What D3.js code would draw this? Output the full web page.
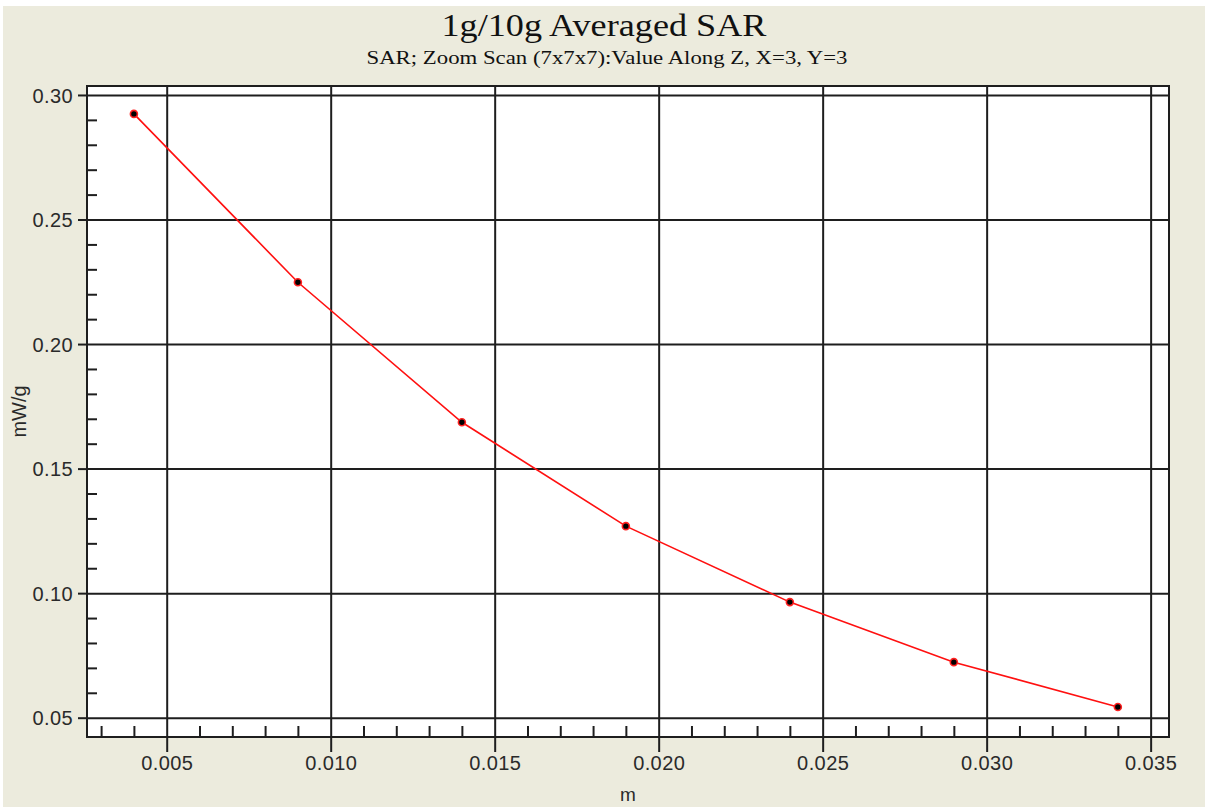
<!DOCTYPE html>
<html><head><meta charset="utf-8">
<script src="https://cdn.jsdelivr.net/npm/d3@7"></script>
<style>html,body{margin:0;padding:0;background:#fff;}svg{display:block;}</style>
</head><body>
<script>
const depthM = [0.004, 0.009, 0.014, 0.019, 0.024, 0.029, 0.034];
const sarValues = [0.2924, 0.2248, 0.1686, 0.1269, 0.0964, 0.0723, 0.0543];
const xTickValues = [0.005, 0.010, 0.015, 0.020, 0.025, 0.030, 0.035];
const xTickLabels = ["0.005", "0.010", "0.015", "0.020", "0.025", "0.030", "0.035"];
const yTickValues = [0.05, 0.10, 0.15, 0.20, 0.25, 0.30];
const yTickLabels = ["0.05", "0.10", "0.15", "0.20", "0.25", "0.30"];
const titleText = "1g/10g Averaged SAR";
const subtitleText = "SAR; Zoom Scan (7x7x7):Value Along Z, X=3, Y=3";
const xLabel = "m";
const yLabel = "mW/g";

const W = 1205, H = 808;
const L = 87, R = 1169, T = 86, B = 737;
const svg = d3.select("body").append("svg").attr("width", W).attr("height", H);
svg.append("rect").attr("x", 0).attr("y", 0).attr("width", W).attr("height", H).attr("fill", "#fff");
svg.append("rect").attr("x", 3).attr("y", 6).attr("width", W - 3).attr("height", H - 7).attr("fill", "#ECEBDD");

const x = d3.scaleLinear().domain([0.00257, 0.03556]).range([L, R]);
const y = d3.scaleLinear().domain([0.04225, 0.3036]).range([B, T]);

svg.append("rect").attr("x", L).attr("y", T).attr("width", R - L).attr("height", B - T).attr("fill", "#fff");

const lineCol = "#1e1e1e";
const gx = svg.append("g").attr("transform", `translate(0,${B})`)
  .call(d3.axisBottom(x).tickValues(xTickValues).tickSize(-(B - T)).tickFormat(""));
const gy = svg.append("g").attr("transform", `translate(${L},0)`)
  .call(d3.axisLeft(y).tickValues(yTickValues).tickSize(-(R - L)).tickFormat(""));
[gx, gy].forEach(g => { g.select(".domain").remove(); g.selectAll("line").attr("stroke", lineCol).attr("stroke-width", 2); });

const xMinor = d3.range(3, 36).map(v => v / 1000).filter(v => v % 0.005 > 1e-9 && 0.005 - (v % 0.005) > 1e-9);
const yMinor = d3.range(5, 31).map(v => v / 100).filter(v => Math.abs(v * 20 - Math.round(v * 20)) > 1e-9);
const mx = svg.append("g").attr("transform", `translate(0,${B})`)
  .call(d3.axisBottom(x).tickValues(xMinor).tickSize(-11).tickFormat(""));
const my = svg.append("g").attr("transform", `translate(${L},0)`)
  .call(d3.axisLeft(y).tickValues(yMinor).tickSize(-10).tickFormat(""));
[mx, my].forEach(g => { g.select(".domain").remove(); g.selectAll("line").attr("stroke", lineCol).attr("stroke-width", 2); });

const ax = svg.append("g").attr("transform", `translate(0,${B})`)
  .call(d3.axisBottom(x).tickValues(xTickValues).tickSize(15).tickPadding(4)
    .tickFormat((d, i) => xTickLabels[i]));
const ay = svg.append("g").attr("transform", `translate(${L},0)`)
  .call(d3.axisLeft(y).tickValues(yTickValues).tickSize(9).tickPadding(5)
    .tickFormat((d, i) => yTickLabels[i]));
[ax, ay].forEach(g => {
  g.select(".domain").remove();
  g.selectAll("line").attr("stroke", lineCol).attr("stroke-width", 2);
  g.selectAll("text").attr("fill", "#2a2a2a").style("font-family", "'Liberation Sans', Arial, sans-serif")
    .style("font-size", "20px").style("letter-spacing", "0.4px");
});
ay.selectAll("text").attr("dy", "0.36em");

svg.append("rect").attr("x", L).attr("y", T).attr("width", R - L).attr("height", B - T)
  .attr("fill", "none").attr("stroke", lineCol).attr("stroke-width", 2);

const line = d3.line().x((d, i) => x(depthM[i])).y(d => y(d));
svg.append("path").datum(sarValues).attr("d", line).attr("fill", "none")
  .attr("stroke", "#ff1010").attr("stroke-width", 1.6);
svg.selectAll("circle.pt").data(sarValues).enter().append("circle")
  .attr("cx", (d, i) => x(depthM[i])).attr("cy", d => y(d)).attr("r", 3.5)
  .attr("fill", "#000").attr("stroke", "#ff2020").attr("stroke-width", 1.6);

svg.append("text").attr("x", 604).attr("y", 36).attr("text-anchor", "middle")
  .style("font-family", "'Liberation Serif', 'Times New Roman', serif").style("font-size", "32px")
  .attr("fill", "#111").attr("textLength", 325).attr("lengthAdjust", "spacingAndGlyphs").text(titleText);
svg.append("text").attr("x", 607).attr("y", 64).attr("text-anchor", "middle")
  .style("font-family", "'Liberation Serif', 'Times New Roman', serif").style("font-size", "18px")
  .attr("fill", "#111").attr("textLength", 481).attr("lengthAdjust", "spacingAndGlyphs").text(subtitleText);

svg.append("text").attr("x", (L + R) / 2).attr("y", 801).attr("text-anchor", "middle")
  .style("font-family", "'Liberation Sans', Arial, sans-serif").style("font-size", "19px")
  .attr("fill", "#2a2a2a").text(xLabel);
svg.append("text").attr("transform", `translate(26,${(T + B) / 2}) rotate(-90)`).attr("text-anchor", "middle")
  .style("font-family", "'Liberation Sans', Arial, sans-serif").style("font-size", "20px")
  .attr("fill", "#2a2a2a").text(yLabel);
</script>
</body></html>
